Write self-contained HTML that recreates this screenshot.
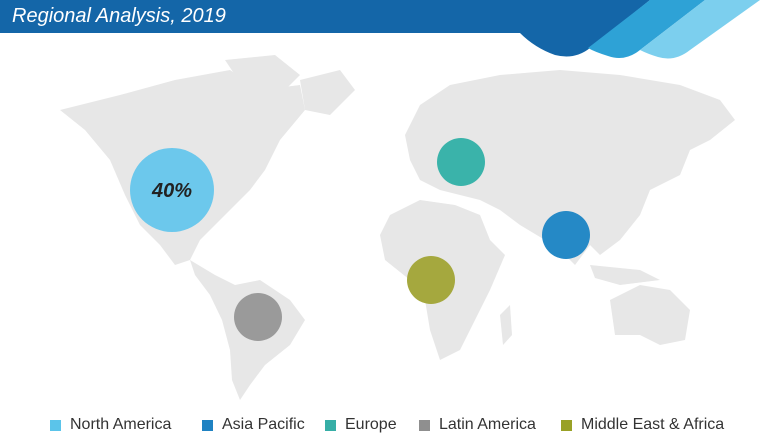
<!DOCTYPE html>
<html><head><meta charset="utf-8"><style>
body{margin:0;width:780px;height:440px;overflow:hidden;background:#fff;font-family:"Liberation Sans",sans-serif}
.lg{position:absolute;top:416px;font-size:16px;color:#333;display:flex;align-items:center}
.lg i{display:inline-block;width:11px;height:11px;margin-right:9px}
</style></head><body>
<svg width="780" height="440" style="position:absolute;left:0;top:0">
<g fill="#e7e7e7">
<path d="M60,110 L120,95 L175,80 L230,70 L260,90 L300,85 L305,110 L280,140 L265,170 L250,190 L225,215 L200,240 L190,260 L175,265 L160,245 L140,225 L125,195 L110,160 L85,130 Z"/>
<path d="M225,60 L275,55 L300,75 L280,95 L245,90 Z"/>
<path d="M300,80 L340,70 L355,90 L330,115 L305,110 Z"/>
<path d="M190,260 L215,275 L235,285 L260,280 L290,300 L305,320 L290,345 L265,365 L250,385 L240,400 L232,380 L230,350 L222,320 L210,295 L195,275 Z"/>
<path d="M405,135 L420,105 L450,85 L500,75 L560,70 L620,75 L680,85 L720,100 L735,120 L710,140 L690,150 L680,175 L650,190 L640,215 L620,240 L600,255 L590,245 L575,265 L560,250 L545,240 L520,225 L500,210 L480,200 L460,195 L440,190 L420,180 L410,160 Z"/>
<path d="M390,215 L420,200 L455,205 L480,215 L490,240 L505,255 L490,290 L475,320 L460,350 L440,360 L430,330 L425,300 L410,280 L385,260 L380,235 Z"/>
<path d="M500,315 L510,305 L512,335 L503,345 Z"/>
<path d="M610,300 L640,285 L670,290 L690,310 L685,340 L660,345 L640,335 L615,335 Z"/>
<path d="M590,265 L640,270 L660,280 L620,285 L595,278 Z"/>
</g>
<path d="M0,0 H650 L590,48 Q575,60 555,55 Q535,48 520,33 H0 Z" fill="#1466a8"/>
<path d="M650,0 H705 L640,50 Q625,62 608,56 Q595,52 588,48 Z" fill="#2ea2d6"/>
<path d="M705,0 H760 L690,50 Q675,62 658,57 Q648,54 640,50 Z" fill="#7ccfee"/>
<text x="12" y="22" fill="#fff" font-size="20" font-style="italic" font-family="Liberation Sans,sans-serif">Regional Analysis, 2019</text>
<circle cx="172" cy="190" r="42" fill="#6cc8ec"/>
<text x="172" y="197" text-anchor="middle" font-size="20" font-weight="bold" font-style="italic" fill="#222">40%</text>
<circle cx="461" cy="162" r="24" fill="#3ab3aa"/>
<circle cx="566" cy="235" r="24" fill="#2589c6"/>
<circle cx="431" cy="280" r="24" fill="#a5a83e"/>
<circle cx="258" cy="317" r="24" fill="#9a9a9a"/>
</svg>
<div class="lg" style="left:50px"><i style="background:#5bc4ea"></i>North America</div>
<div class="lg" style="left:202px"><i style="background:#1f82c2"></i>Asia Pacific</div>
<div class="lg" style="left:325px"><i style="background:#36aea6"></i>Europe</div>
<div class="lg" style="left:419px"><i style="background:#8f8f8f"></i>Latin America</div>
<div class="lg" style="left:561px"><i style="background:#99a126"></i>Middle East &amp; Africa</div>
</body></html>
